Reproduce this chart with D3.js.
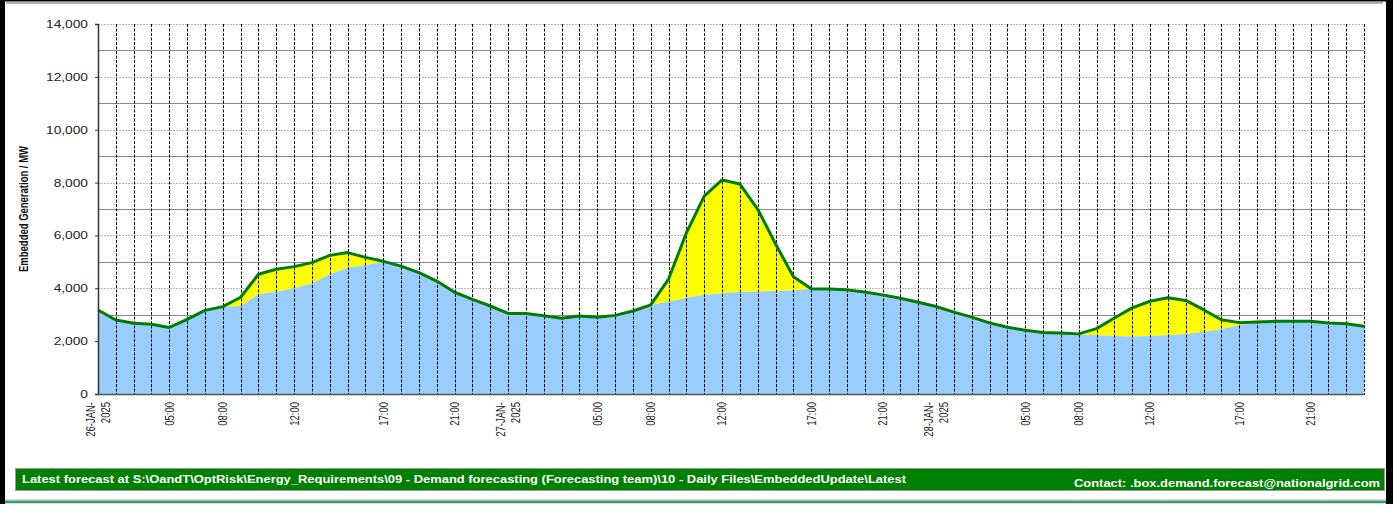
<!DOCTYPE html>
<html>
<head>
<meta charset="utf-8">
<script src="https://cdn.jsdelivr.net/npm/d3@7"></script>
<style>
  body { margin: 0; background: #fff; }
  svg { display: block; font-family: Arial, "Liberation Sans", sans-serif; }
</style>
</head>
<body>
<script>
// hourly values, first point = 26-JAN-2025 01:00
var baseMW = [3180,2800,2675,2640,2520,2825,3165,3290,3330,3770,
              3870,4000,4190,4530,4780,4880,4990,4840,4590,4275,
              3850,3580,3330,3050,3050,2965,2865,2950,2905,2975,
              3140,3370,3495,3645,3745,3810,3860,3870,3900,3920,
              3985,3970,3940,3860,3750,3625,3475,3310,3100,2910,
              2690,2525,2410,2325,2310,2250,2225,2190,2175,2190,
              2225,2275,2350,2460,2600,2700,2750,2750,2750,2690,
              2660,2560];

var totalMW = [3180,2800,2675,2640,2520,2825,3165,3305,3660,4530,
               4720,4820,4970,5245,5350,5170,5020,4840,4590,4275,
               3850,3580,3330,3050,3050,2965,2865,2950,2905,2975,
               3140,3370,4350,6100,7490,8100,7945,6990,5675,4440,
               3985,3970,3940,3860,3750,3625,3475,3310,3100,2910,
               2690,2525,2410,2325,2310,2275,2475,2875,3260,3510,
               3640,3540,3190,2810,2700,2725,2750,2750,2750,2690,
               2660,2560];

var tickAt = [0, 4, 7, 11, 16, 20, 23, 28, 31, 35, 40, 44, 47, 52, 55, 59, 64, 68];
var tickText = ["26-JAN-2025","05:00","08:00","12:00","17:00","21:00",
                "27-JAN-2025","05:00","08:00","12:00","17:00","21:00",
                "28-JAN-2025","05:00","08:00","12:00","17:00","21:00"];

var yTicks = [0,2000,4000,6000,8000,10000,12000,14000];
var yMinor = [1000,3000,5000,7000,9000,11000,13000];

var width = 1393, height = 512;
var plotL = 98, plotR = 1364, plotT = 24, plotB = 394;
var stretch = 1.25; // the source image is a little wider than tall in its glyphs

var fmt = d3.format(",");

var x = d3.scaleLinear().domain([0, totalMW.length - 1]).range([plotL, plotR]);
var y = d3.scaleLinear().domain([0, 14000]).range([plotB, plotT]);

var svg = d3.select("body").append("svg")
    .attr("width", width)
    .attr("height", height);

// frame bits
svg.append("rect").attr("x", 0).attr("y", 0).attr("width", width).attr("height", height).attr("fill", "#fff");
svg.append("rect").attr("x", 0).attr("y", 0).attr("width", 5).attr("height", 504).attr("fill", "#000");
svg.append("rect").attr("x", 1386).attr("y", 0).attr("width", 7).attr("height", 504).attr("fill", "#000");
svg.append("rect").attr("x", 0).attr("y", 0).attr("width", width).attr("height", 1.5).attr("fill", "#000");
svg.append("line").attr("x1", 6).attr("x2", 1383).attr("y1", 3).attr("y2", 3)
    .attr("stroke", "#9a9a9a").attr("stroke-width", 1.5);

// horizontal grid
svg.append("g").selectAll("line")
    .data(yTicks.filter(function(d) { return d > 0; }))
    .enter().append("line")
    .attr("x1", plotL).attr("x2", plotR)
    .attr("y1", function(d) { return Math.round(y(d)) + 0.5; })
    .attr("y2", function(d) { return Math.round(y(d)) + 0.5; })
    .attr("stroke", "#b8b8b8")
    .attr("stroke-dasharray", "2,1");

svg.append("g").selectAll("line")
    .data(yMinor)
    .enter().append("line")
    .attr("x1", plotL).attr("x2", plotR)
    .attr("y1", function(d) { return Math.round(y(d)) + 0.5; })
    .attr("y2", function(d) { return Math.round(y(d)) + 0.5; })
    .attr("stroke", "#8a8a8a");

// areas
var baseArea = d3.area()
    .x(function(d, i) { return x(i); })
    .y0(y(0))
    .y1(function(d) { return y(d); });

var solarArea = d3.area()
    .x(function(d, i) { return x(i); })
    .y0(function(d, i) { return y(baseMW[i]); })
    .y1(function(d) { return y(d); });

svg.append("path").datum(totalMW).attr("d", solarArea).attr("fill", "#ffff00");
svg.append("path").datum(baseMW).attr("d", baseArea).attr("fill", "#99ccff");

// vertical grid, one per hour
svg.append("g").selectAll("line")
    .data(totalMW.slice(1))
    .enter().append("line")
    .attr("x1", function(d, i) { return Math.round(x(i + 1)) + 0.5; })
    .attr("x2", function(d, i) { return Math.round(x(i + 1)) + 0.5; })
    .attr("y1", plotT).attr("y2", plotB)
    .attr("stroke", "#000")
    .attr("stroke-dasharray", "3,1.5");

// total line
var line = d3.line()
    .x(function(d, i) { return x(i); })
    .y(function(d) { return y(d); });

svg.append("path").datum(totalMW)
    .attr("d", line)
    .attr("fill", "none")
    .attr("stroke", "#007d00")
    .attr("stroke-width", 3)
    .attr("stroke-linejoin", "round");

// y axis
var yAxis = d3.axisLeft(y).tickValues(yTicks).tickFormat(fmt).tickSize(3).tickPadding(7);
var gy = svg.append("g").attr("transform", "translate(" + plotL + ",0)").call(yAxis);
gy.select(".domain").attr("stroke", "#333").attr("stroke-width", 1.5);
gy.selectAll(".tick line").attr("stroke", "#333");
gy.selectAll("text").attr("font-size", 11).attr("fill", "#222")
    .attr("font-family", "Arial, 'Liberation Sans', sans-serif")
    .attr("x", -10 / stretch)
    .attr("transform", "scale(" + stretch + ",1)");

// x axis line
svg.append("line").attr("x1", plotL).attr("x2", plotR + 1).attr("y1", plotB + 0.5).attr("y2", plotB + 0.5)
    .attr("stroke", "#555").attr("stroke-width", 1.5);

// x labels, rotated
var xl = svg.append("g").selectAll("g")
    .data(tickAt)
    .enter().append("g")
    .attr("transform", function(d) {
      return "translate(" + x(d) + "," + (plotB + 8) + ") scale(" + stretch + ",1) rotate(-90)";
    });

xl.each(function(d, i) {
  var g = d3.select(this);
  var t = tickText[i];
  if (t.indexOf("JAN") > 0) {
    g.append("text").attr("text-anchor", "end").attr("y", -2.5).attr("font-size", 9.5).attr("fill", "#222")
      .text(t.slice(0, 7));
    g.append("text").attr("text-anchor", "end").attr("y", 9.5).attr("font-size", 9.5).attr("fill", "#222")
      .text(t.slice(7));
  } else {
    g.append("text").attr("text-anchor", "end").attr("y", 3.5).attr("font-size", 9.5).attr("fill", "#222")
      .text(t);
  }
});

// y title (narrow face)
svg.append("text")
    .attr("transform", "translate(28,209) rotate(-90)")
    .attr("text-anchor", "middle")
    .attr("font-size", 12)
    .attr("font-weight", "bold")
    .attr("textLength", 126)
    .attr("lengthAdjust", "spacingAndGlyphs")
    .attr("fill", "#111")
    .text("Embedded Generation / MW");

// footer banner
svg.append("rect").attr("x", 15.5).attr("y", 468.5).attr("width", 1369).attr("height", 22)
    .attr("fill", "#008000").attr("stroke", "#9a9a9a");
svg.append("text").attr("x", 22).attr("y", 483).attr("font-size", 11).attr("font-weight", "bold")
    .attr("textLength", 884).attr("lengthAdjust", "spacingAndGlyphs")
    .attr("fill", "#fff")
    .text("Latest forecast at S:\\OandT\\OptRisk\\Energy_Requirements\\09 - Demand forecasting (Forecasting team)\\10 - Daily Files\\EmbeddedUpdate\\Latest");
svg.append("text").attr("x", 1074).attr("y", 487).attr("font-size", 11)
    .attr("textLength", 306).attr("lengthAdjust", "spacingAndGlyphs")
    .attr("font-weight", "bold").attr("fill", "#fff")
    .text("Contact: .box.demand.forecast@nationalgrid.com");

svg.append("line").attr("x1", 5).attr("x2", 1386).attr("y1", 500).attr("y2", 500).attr("stroke", "#aaa");
svg.append("line").attr("x1", 5).attr("x2", 1386).attr("y1", 502).attr("y2", 502)
    .attr("stroke", "#3f9a67").attr("stroke-width", 2.5);
</script>
</body>
</html>
